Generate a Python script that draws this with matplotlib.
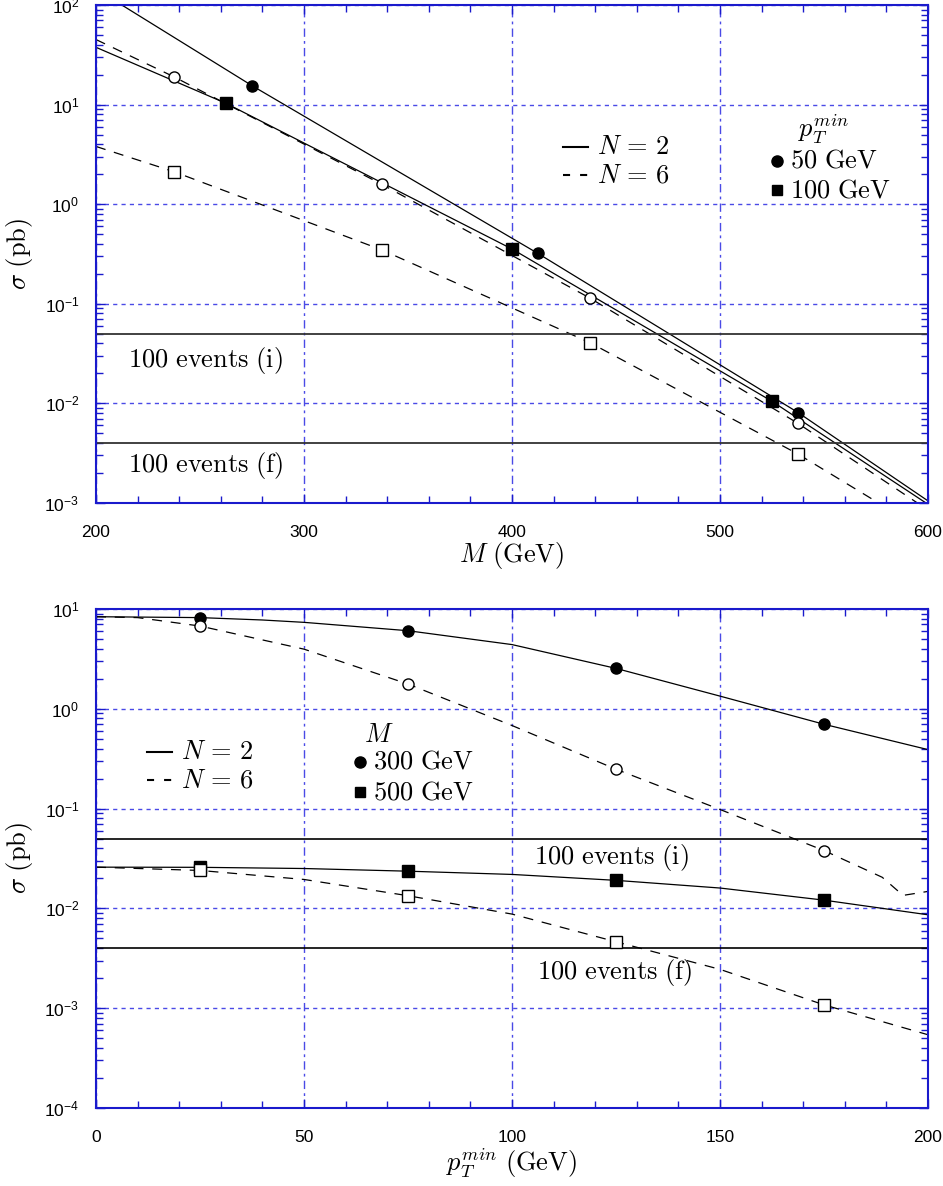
import math
import matplotlib
matplotlib.use("Agg")
import matplotlib.pyplot as plt
from matplotlib.ticker import MultipleLocator, LogLocator, FuncFormatter, NullFormatter

plt.rcParams['mathtext.fontset'] = 'cm'
plt.rcParams['font.family'] = ['Liberation Sans', 'DejaVu Sans']

# ---- upper panel: sigma vs M ----
m_n2_pt50 = [212.4, 275, 412.5, 537.5, 600]
s_n2_pt50 = [100, 15.5, 0.32, 0.0081, 0.00105]
m_n2_pt100 = [200, 262.5, 400, 525, 600]
s_n2_pt100 = [37.6, 10.3, 0.355, 0.0105, 0.00097]
m_n6_pt50 = [200, 237.5, 337.5, 437.5, 537.5, 600]
s_n6_pt50 = [45, 19, 1.58, 0.114, 0.0063, 0.00085]
m_n6_pt100 = [200, 237.5, 337.5, 437.5, 537.5, 600]
s_n6_pt100 = [3.8, 2.12, 0.347, 0.0407, 0.0031, 0.0005]

# points
mk_m_fc = [275, 412.5, 537.5]
mk_s_fc = [15.5, 0.32, 0.0081]
mk_m_fs = [262.5, 400, 525]
mk_s_fs = [10.3, 0.355, 0.0105]
mk_m_oc = [237.5, 337.5, 437.5, 537.5]
mk_s_oc = [19, 1.58, 0.114, 0.0063]
mk_m_os = [237.5, 337.5, 437.5, 537.5]
mk_s_os = [2.12, 0.347, 0.0407, 0.0031]

# ---- lower panel: sigma vs pT min ----
pt_n2_m300 = [0, 25, 40, 50, 75, 100, 125, 150, 175, 200]
s_n2_m300 = [8.37, 8.2, 7.76, 7.35, 6.06, 4.4, 2.54, 1.34, 0.70, 0.39]
pt_n6_m300 = [0, 10, 25, 50, 75, 100, 125, 150, 175, 189, 194, 200]
s_n6_m300 = [8.37, 8.2, 6.75, 3.96, 1.77, 0.68, 0.248, 0.098, 0.038, 0.0205, 0.0135, 0.0148]
pt_m500 = [0, 25, 50, 75, 100, 125, 150, 175, 200]
s_n2_m500 = [0.0259, 0.0258, 0.0251, 0.0236, 0.0219, 0.0191, 0.016, 0.0121, 0.00863]
s_n6_m500 = [0.0259, 0.024, 0.0195, 0.0134, 0.00877, 0.00463, 0.00245, 0.00108, 0.000542]

mk_pt = [25, 75, 125, 175]
mk_fc2 = [8.2, 6.06, 2.54, 0.70]
mk_oc2 = [6.75, 1.77, 0.248, 0.038]
mk_fs2 = [0.0258, 0.0236, 0.0191, 0.0121]
mk_os2 = [0.024, 0.0134, 0.00463, 0.00108]

events_i = 0.05
events_f = 0.004

W, H = 943, 1186
fig = plt.figure(figsize=(W / 100, H / 100), dpi=100)
ax1 = fig.add_axes([96 / W, 1 - 503 / H, 832 / W, 498 / H])
ax2 = fig.add_axes([96 / W, 1 - 1108 / H, 832 / W, 499 / H])

blue = '#1a1acc'
gridblue = '#4a4ae6'
dash = (0, (8, 7))
lw = 0.9
ms = 8
fs = 19


def logfmt(v, pos):
    e = int(round(math.log10(v)))
    return r'$\mathregular{10^{%d}}$' % e


def style(ax, xmaj, xmin, ylo, yhi):
    ax.set_yscale('log')
    ax.set_ylim(ylo, yhi)
    ax.xaxis.set_major_locator(MultipleLocator(xmaj))
    ax.xaxis.set_minor_locator(MultipleLocator(xmin))
    ax.yaxis.set_major_locator(LogLocator(base=10))
    ax.yaxis.set_minor_locator(LogLocator(base=10, subs=range(2, 10)))
    ax.yaxis.set_major_formatter(FuncFormatter(logfmt))
    ax.yaxis.set_minor_formatter(NullFormatter())
    ax.xaxis.set_major_formatter(FuncFormatter(lambda v, p: '%d' % v))
    for s in ax.spines.values():
        s.set_color(blue)
        s.set_linewidth(1.5)
    ax.tick_params(which='both', direction='in', top=True, right=True, color=blue,
                   labelsize=12.5)
    ax.tick_params(which='major', length=6.5, width=1)
    ax.tick_params(which='minor', length=5, width=1)
    ax.tick_params(axis='x', which='major', pad=16)
    ax.tick_params(axis='y', which='major', pad=12)
    ax.xaxis.grid(True, which='major', color=gridblue, lw=1, ls=(0, (6, 3, 2, 3)))
    ax.yaxis.grid(True, which='major', color=gridblue, lw=1, ls=(0, (3, 3)))
    ax.set_ylabel(r'$\sigma\ \mathrm{(pb)}$', fontsize=fs)
    ax.yaxis.set_label_coords(-0.073, 0.5)


def legend_block(ax, x0, y1, y2, head, head_x, head_y, mk_x, labels, mk_y):
    kw = dict(transform=ax.transAxes, clip_on=False)
    ax.plot([x0, x0 + 0.03], [y1, y1], color='k', lw=1.5, **kw)
    ax.plot([x0, x0 + 0.03], [y2, y2], color='k', lw=1.5, ls=(0, (3.4, 4.8)), **kw)
    ax.text(x0 + 0.041, y1, r'$N\,=\,2$', fontsize=fs, va='center', ha='left', transform=ax.transAxes)
    ax.text(x0 + 0.041, y2, r'$N\,=\,6$', fontsize=fs, va='center', ha='left', transform=ax.transAxes)
    ax.text(head_x, head_y, head, fontsize=fs, va='center', ha='center', transform=ax.transAxes)
    ax.plot([mk_x], [mk_y[0]], 'o', color='k', ms=ms, **kw)
    ax.plot([mk_x], [mk_y[1]], 's', color='k', ms=ms * 0.85, **kw)
    for lab, yy in zip(labels, mk_y):
        ax.text(mk_x + 0.016, yy, lab, fontsize=fs, va='center', ha='left', transform=ax.transAxes)


# ---- upper panel ----
ax1.set_xlim(200, 600)
style(ax1, 100, 20, 1e-3, 1e2)
ax1.plot(m_n2_pt50, s_n2_pt50, color='k', lw=lw)
ax1.plot(m_n2_pt100, s_n2_pt100, color='k', lw=lw)
ax1.plot(m_n6_pt50, s_n6_pt50, color='k', lw=lw, ls=dash)
ax1.plot(m_n6_pt100, s_n6_pt100, color='k', lw=lw, ls=dash)
ax1.axhline(events_i, color='#333333', lw=1.3)
ax1.axhline(events_f, color='#333333', lw=1.3)
ax1.plot(mk_m_fc, mk_s_fc, 'o', color='k', ms=ms, zorder=5)
ax1.plot(mk_m_fs, mk_s_fs, 's', color='k', ms=ms, zorder=5)
ax1.plot(mk_m_oc, mk_s_oc, 'o', mfc='white', mec='k', mew=1, ms=ms, zorder=5)
ax1.plot(mk_m_os, mk_s_os, 's', mfc='white', mec='k', mew=1, ms=ms, zorder=5)
ax1.text(0.0385, 0.287, r'$\mathrm{100\ events\ (i)}$', fontsize=fs, va='center', transform=ax1.transAxes)
ax1.text(0.0385, 0.075, r'$\mathrm{100\ events\ (f)}$', fontsize=fs, va='center', transform=ax1.transAxes)
ax1.set_xlabel(r'$M\ \mathrm{(GeV)}$', fontsize=fs, labelpad=0)
legend_block(ax1, 0.5613, 0.7155, 0.6586, r'$p_T^{min}$', 0.875, 0.751, 0.818,
             [r'$\mathrm{50\ GeV}$', r'$\mathrm{100\ GeV}$'], [0.687, 0.6285])

# ---- lower panel ----
ax2.set_xlim(0, 200)
style(ax2, 50, 10, 1e-4, 1e1)
ax2.plot(pt_n2_m300, s_n2_m300, color='k', lw=lw)
ax2.plot(pt_n6_m300, s_n6_m300, color='k', lw=lw, ls=dash)
ax2.plot(pt_m500, s_n2_m500, color='k', lw=lw)
ax2.plot(pt_m500, s_n6_m500, color='k', lw=lw, ls=dash)
ax2.axhline(events_i, color='k', lw=1.2)
ax2.axhline(events_f, color='k', lw=1.2)
ax2.plot(mk_pt, mk_fc2, 'o', color='k', ms=ms, zorder=5)
ax2.plot(mk_pt, mk_fs2, 's', color='k', ms=ms, zorder=5)
ax2.plot(mk_pt, mk_oc2, 'o', mfc='white', mec='k', mew=1, ms=ms, zorder=5)
ax2.plot(mk_pt, mk_os2, 's', mfc='white', mec='k', mew=1, ms=ms, zorder=5)
ax2.text(0.526, 0.5016, r'$\mathrm{100\ events\ (i)}$', fontsize=fs, va='center', transform=ax2.transAxes)
ax2.text(0.530, 0.2725, r'$\mathrm{100\ events\ (f)}$', fontsize=fs, va='center', transform=ax2.transAxes)
ax2.set_xlabel(r'$p_T^{min}\ \mathrm{(GeV)}$', fontsize=fs, labelpad=1)
legend_block(ax2, 0.0609, 0.714, 0.657, r'$M$', 0.34, 0.7475, 0.317,
             [r'$\mathrm{300\ GeV}$', r'$\mathrm{500\ GeV}$'], [0.694, 0.6327])

fig.savefig('out.png', dpi=100)
